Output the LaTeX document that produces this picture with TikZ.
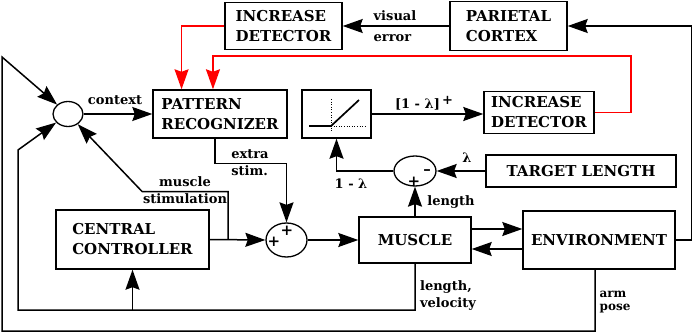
\documentclass[tikz,border=0pt]{standalone}
\usepackage{fontspec}
\setmainfont{DejaVu Serif}
\usepackage{tikz}
\usetikzlibrary{arrows.meta,positioning,shapes.geometric,calc}

\begin{document}
\begin{tikzpicture}[x=1pt, y=-1pt, every node/.style={align=left, inner sep=0pt}]
\tikzset{
  blk/.style={draw, line width=1.4pt, font=\bfseries\fontsize{15}{20}\selectfont},
  sumc/.style={draw, ellipse, line width=1.3pt},
  lbl/.style={font=\bfseries\fontsize{13}{17}\selectfont},
  sgn/.style={font=\bfseries\fontsize{15}{15}\selectfont},
  wire/.style={line width=1.5pt},
  arr/.style={wire, -{Stealth[length=20pt, width=14pt, inset=2.5pt]}},
  fb/.style={arr, red}
}
\useasboundingbox (0,0) rectangle (692,334);
% blocks
\node[blk, minimum width=117pt, minimum height=47pt] (incA) at (283.5,26) {INCREASE\\DETECTOR};
\node[blk, minimum width=117pt, minimum height=49pt] (parietal) at (508.5,26) {PARIETAL\\CORTEX};
\node[blk, minimum width=134pt, minimum height=48pt] (pattern) at (220,114) {PATTERN\\RECOGNIZER};
\node[sumc, minimum width=30pt, minimum height=25pt] (ctx) at (68,114) {};
\node[blk, minimum width=69pt, minimum height=48pt] (ramp) at (336.5,114) {};
\node[blk, minimum width=110pt, minimum height=42pt] (incB) at (539,112.5) {INCREASE\\DETECTOR};
\node[blk, minimum width=190pt, minimum height=32pt] (target) at (581,171) {TARGET LENGTH};
\node[sumc, minimum width=42pt, minimum height=30pt] (diff) at (415,171) {};
\node[blk, minimum width=112pt, minimum height=46pt] (muscle) at (415,240) {MUSCLE};
\node[blk, minimum width=152pt, minimum height=58pt] (env) at (599,240) {ENVIRONMENT};
\node[blk, minimum width=153pt, minimum height=59pt] (central) at (132.5,239.5) {CENTRAL\\CONTROLLER};
\node[sumc, minimum width=41pt, minimum height=34pt] (sum) at (286.5,240) {};
% signs
\node[sgn] (sumP) at (274,242) {+};
\node[sgn] (sumQ) at (287,231) {+};
\node[sgn] (diffM) at (427,172) {–};
\node[sgn] (diffP) at (414,182) {+};
% ramp curve
\draw[dotted, line width=0.6pt] (331,126) -- (367,126);
\draw[dotted, line width=0.6pt] (331,99) -- (331,132);
\draw[line width=1.7pt] (309,126) -- (331,126) -- (359,100);
% red feedback
\coordinate (pinA) at ($(pattern.north west)!0.216!(pattern.north east)$);
\coordinate (pinB) at ($(pattern.north west)!0.448!(pattern.north east)$);
\draw[fb] (incA.west) -| (pinA);
\draw[fb] (incB.east) -| (631,56) -| (pinB);
% upper path
\draw[arr] (parietal.west) -- (incA.east);
\node[lbl, font=\bfseries\fontsize{13}{21}\selectfont] (visL) at (395,26) {visual\\error};
\draw[arr] (env.east) -- ++(16,0) |- (parietal.east);
\draw[arr] (ctx) -- (pattern);
\node[lbl] (ctxL) at (115,100) {context};
\draw[arr] (ramp.east) -- (ramp.east -| incB.west);
\node[lbl] (rampL) at (424,103) {[1 - λ]\,\raisebox{4pt}{+}};
% length comparison
\draw[arr] (target.west) -- (diff.east);
\node[lbl] (lamL) at (467,158) {λ};
\draw[arr] (diff.west) -| (ramp.south);
\node[lbl] (oneL) at (351,184) {1 - λ};
\draw[arr] (muscle.north) -- (diff.south);
\node[lbl] (lenL) at (451,202) {length};
% motor path
\draw[arr] (central.east) -- (sum.west);
\draw[arr] (sum.east) -- (muscle.west);
\draw[arr] ([yshift=11pt]muscle.east) -- ([yshift=11pt]muscle.east -| env.west);
\draw[arr] ([yshift=-9pt]env.west) -- ([yshift=-9pt]env.west -| muscle.east);
\coordinate (patOut) at ($(pattern.south)+(-5,0)$);
\draw[arr] (patOut) -- ++(0,25) -| (sum.north);
\node[lbl] (xsL) at (250,163) {extra\\stim.};
\coordinate (tap) at ($(central.east)!0.333!(sum.west)$);
\draw[arr] (tap) -- ++(0,-48) -- ++(-86,0) -- (ctx);
\node[lbl, align=center] (msL) at (185,190) {muscle\\stimulation};
% feedback loops
\coordinate (lvL) at (18,310);
\draw[arr] (muscle.south) |- (lvL) -- (18,150) -- (ctx);
\draw[arr] (central.south |- lvL) -- (central.south);
\node[lbl] (lvT) at (448,296) {length,\\velocity};
\coordinate (apL) at (2,331);
\draw[arr] ([xshift=-4pt]env.south) |- (apL) -- (2,57) -- (ctx);
\node[lbl, font=\bfseries\fontsize{12}{13}\selectfont] (apT) at (615,302) {arm\\pose};
\end{tikzpicture}
\end{document}
